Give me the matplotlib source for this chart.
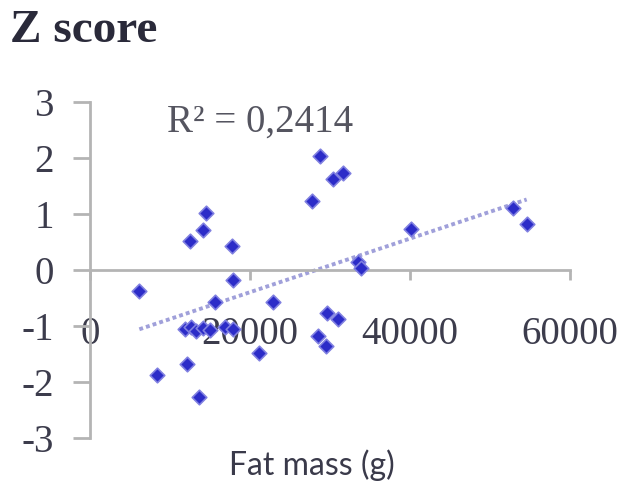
import numpy as np
import matplotlib
matplotlib.use("Agg")
import matplotlib.pyplot as plt

# Data (fat mass in g, Z score)
fat_mass = [28750, 30333, 31667, 27708, 14500, 14167, 12500, 17708,
            33500, 33900, 17917, 6167, 15625, 22917, 29583, 31042,
            11875, 12625, 13250, 14125, 15000, 16875, 17875,
            28542, 29458, 21167, 12167, 8333, 13667,
            52917, 54583, 40125]
z_score = [2.03, 1.63, 1.73, 1.23, 1.02, 0.72, 0.52, 0.42,
           0.15, 0.03, -0.17, -0.37, -0.57, -0.57, -0.77, -0.87,
           -1.06, -1.02, -1.09, -1.04, -1.07, -1.02, -1.05,
           -1.17, -1.36, -1.48, -1.68, -1.88, -2.26,
           1.11, 0.82, 0.74]
x_ticks = [0, 20000, 40000, 60000]
y_ticks = [-3, -2, -1, 0, 1, 2, 3]
r2_text = "R² = 0,2414"

W, H = 622, 486
fig = plt.figure(figsize=(W / 100, H / 100), dpi=100)
ax = fig.add_axes([90 / W, 1 - 438 / H, (570 - 90) / W, (438 - 102) / H])

x = np.array(fat_mass, dtype=float)
y = np.array(z_score, dtype=float)
ax.scatter(x, y, s=55, marker='D', color='#2c2cc8', edgecolors='#8080e0',
           linewidths=1.2, zorder=3)

# linear trend line
m, b = np.polyfit(x, y, 1)
xl = np.array([x.min(), x.max()])
ax.plot(xl, m * xl + b, linestyle=(0, (1, 0.8)), color='#a0a0da', lw=2.8, zorder=2)

ax.set_xlim(0, 60000)
ax.set_ylim(-3, 3)
ax.set_xticks(x_ticks)
ax.set_yticks(y_ticks)
ax.set_xticklabels([str(v) for v in x_ticks])
ax.set_yticklabels([str(v) for v in y_ticks])

for s in ['top', 'right']:
    ax.spines[s].set_visible(False)
ax.spines['bottom'].set_position(('data', 0))
for s in ['bottom', 'left']:
    ax.spines[s].set_color('#b4b4b4')
    ax.spines[s].set_linewidth(2)

ax.tick_params(axis='x', direction='out', length=7, width=2, color='#b4b4b4',
               pad=26, labelcolor='#3c3c4c', labelsize=28)
ax.tick_params(axis='y', direction='out', length=12, width=2, color='#b4b4b4',
               pad=14, labelcolor='#3c3c4c', labelsize=28)
for lab in ax.get_xticklabels() + ax.get_yticklabels():
    lab.set_fontfamily('Liberation Serif')

fig.text(10 / W, 1 - 10 / H, "Z score", ha='left', va='top',
         fontfamily='Liberation Serif', fontweight='bold', fontsize=34,
         color='#2a2a3a')
ax.text(0.16, 0.94, r2_text, transform=ax.transAxes, ha='left', va='center',
        fontfamily='Liberation Serif', fontsize=28, color='#555560')
fig.text(312 / W, 1 - 465 / H, "Fat mass (g)", ha='center', va='center',
         fontfamily='Lato', fontsize=23, color='#3a3a4a')

fig.savefig("out.png", dpi=100)
